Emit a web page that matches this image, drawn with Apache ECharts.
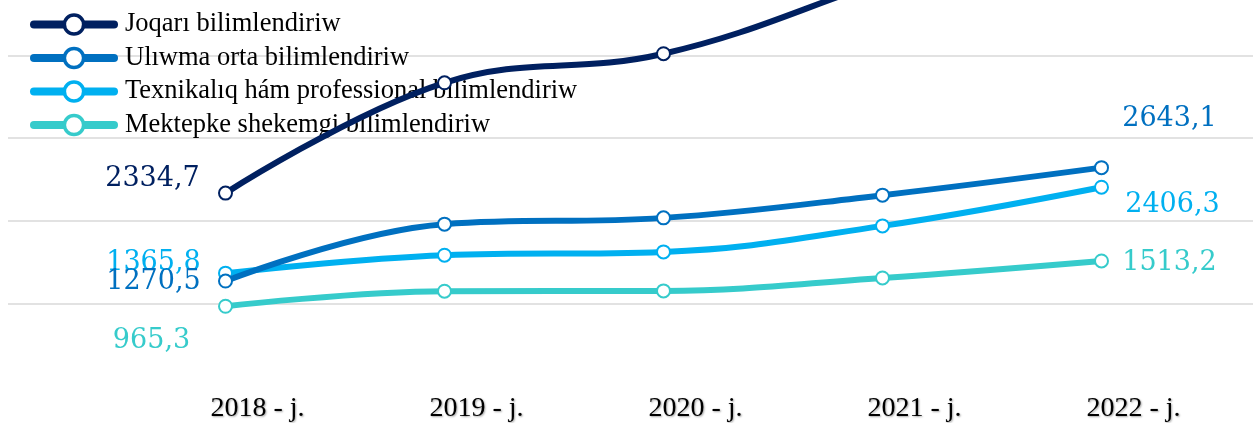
<!DOCTYPE html>
<html>
<head>
<meta charset="utf-8">
<script src="https://cdn.jsdelivr.net/npm/echarts@6/dist/echarts.min.js"></script>
<style>
  html, body { margin: 0; padding: 0; background: #ffffff; }
  #chart { width: 1253px; height: 423px; }
</style>
</head>
<body>
<div id="chart"></div>
<script>
// Years on the category axis
const categories = ['2018 - j.', '2019 - j.', '2020 - j.', '2021 - j.', '2022 - j.'];

// Series values
const joqari = [2334.7, 3670, 4022, 4900, 5800];
const uliwma = [1270.5, 1959, 2035, 2310, 2643.1];
const texnikaliq = [1365.8, 1583, 1623, 1938, 2406.3];
const mektepke = [965.3, 1147, 1151, 1308, 1513.2];

// Series names (legend text)
const seriesNames = [
  'Joqarı bilimlendiriw',
  'Ulıwma orta bilimlendiriw',
  'Texnikalıq hám professional bilimlendiriw',
  'Mektepke shekemgi bilimlendiriw'
];

// Value axis range: the plot is cut off at the top edge of the canvas
const yMin = 0, yMax = 4672, yStep = 1000;

const colors = ['#002060', '#0070C0', '#00B0F0', '#36CBCB'];

// Which points carry a value label, and where the label sits relative to the point
const labelPlacement = [
  { 0: [-73, -14] },
  { 0: [-72, 1], 4: [68, -49] },
  { 0: [-72, -10], 4: [71, 18] },
  { 0: [-74, 35], 4: [68, 2] }
];

const fmt = v => String(v).replace('.', ',');

function buildData(values, sIdx) {
  return values.map((v, i) => {
    const off = labelPlacement[sIdx][i];
    if (!off) return v;
    return {
      value: v,
      label: {
        show: true,
        position: 'inside',
        offset: off,
        formatter: p => fmt(p.value),
        color: colors[sIdx],
        fontFamily: 'DejaVu Serif',
        fontSize: 27,
        align: 'center',
        verticalAlign: 'middle'
      }
    };
  });
}

const allValues = [joqari, uliwma, texnikaliq, mektepke];

const gridTop = 0, gridBottom = 37;
const gridGray = '#D9D9D9';

const chart = echarts.init(document.getElementById('chart'), null, { renderer: 'canvas' });
chart.setOption({
  animation: false,
  backgroundColor: '#ffffff',
  legend: {
    orient: 'vertical',
    left: 25,
    top: 6,
    itemWidth: 80,
    itemHeight: 24,
    itemGap: 6.5,
    data: seriesNames,
    lineStyle: { width: 8, cap: 'round' },
    itemStyle: { borderWidth: 3.5 },
    textStyle: { fontFamily: 'Liberation Serif', fontSize: 26.5, lineHeight: 27, color: '#000000', padding: [0, 0, 0, 6] }
  },
  grid: [
    { left: 8, right: 0, top: gridTop, bottom: gridBottom },
    { left: 116, right: 42, top: gridTop, bottom: gridBottom }
  ],
  xAxis: [
    { gridIndex: 0, type: 'value', min: 0, max: 1, show: false },
    {
      gridIndex: 1,
      type: 'category',
      data: categories,
      boundaryGap: true,
      axisLine: { show: false },
      axisTick: { show: false },
      axisLabel: {
        margin: 9,
        fontFamily: 'Liberation Serif',
        fontSize: 28,
        lineHeight: 28,
        color: '#000000',
        padding: [0, 0, 0, 64],
        textShadowColor: 'rgba(0,0,0,0.35)',
        textShadowBlur: 2,
        textShadowOffsetX: 1,
        textShadowOffsetY: 1
      }
    }
  ],
  yAxis: [
    {
      gridIndex: 0,
      type: 'value',
      min: yMin, max: yMax, interval: yStep,
      axisLine: { show: false },
      axisTick: { show: false },
      axisLabel: { show: false },
      splitLine: {
        show: true,
        lineStyle: { color: ['rgba(0,0,0,0)', gridGray, gridGray, gridGray, gridGray, 'rgba(0,0,0,0)'], width: 1.6 }
      }
    },
    {
      gridIndex: 1,
      type: 'value',
      min: yMin, max: yMax, interval: yStep,
      show: false,
      splitLine: { show: false }
    }
  ],
  series: allValues.map((vals, s) => ({
    name: seriesNames[s],
    type: 'line',
    xAxisIndex: 1,
    yAxisIndex: 1,
    data: buildData(vals, s),
    smooth: 0.4,
    symbol: 'circle',
    symbolSize: 13,
    showSymbol: true,
    lineStyle: { color: colors[s], width: 6 },
    itemStyle: { color: '#ffffff', borderColor: colors[s], borderWidth: 2 },
    label: { show: false },
    z: 10 - s
  }))
});
</script>
</body>
</html>
